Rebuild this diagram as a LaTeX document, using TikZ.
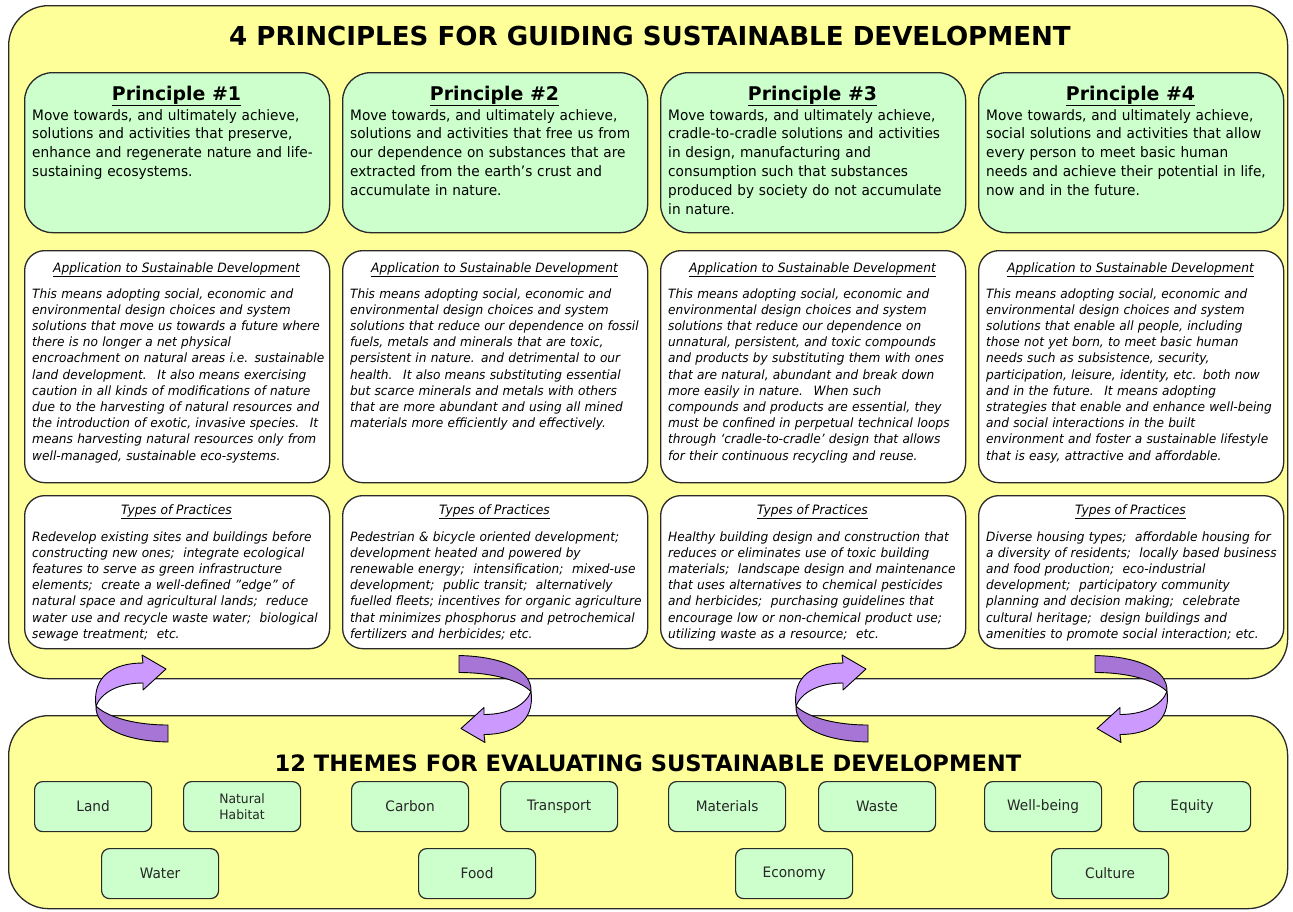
\documentclass[tikz,border=0pt]{standalone}
\usepackage{fontspec}
\setmainfont{DejaVu Sans}[FakeStretch=0.95]
\newfontfamily\widefont{DejaVu Sans}[FakeStretch=1.0]
\definecolor{ylw}{HTML}{FFFF99}
\definecolor{grn}{HTML}{CCFFCC}
\definecolor{plight}{HTML}{CC99FF}
\definecolor{pdark}{HTML}{A675D6}
\definecolor{edgec}{HTML}{2A2A2A}
\newcommand{\swirlshape}{%
  \filldraw[fill=pdark, draw=black, line width=0.9pt, line join=round]
    (168,742) .. controls (125,741) and (95,728) .. (96,706)
    .. controls (106,716) and (132,725) .. (168,725) -- cycle;
  \filldraw[fill=plight, draw=black, line width=0.9pt, line join=round]
    (96,706) .. controls (92,675) and (115,663) .. (143,663) -- (142,655) -- (166,669)
    -- (143,690) -- (143,683) .. controls (118,683) and (101,693) .. (96,706) -- cycle;
}
\tikzset{
  bigbox/.style={draw=edgec, fill=ylw, line width=1.3pt, rounded corners=40pt, anchor=north west, inner sep=0pt, minimum width=1279pt},
  princbox/.style={draw=edgec, fill=grn, line width=1.3pt, rounded corners=28pt, anchor=north west, inner sep=0pt, minimum width=305pt, minimum height=160pt},
  appbox/.style={draw=edgec, fill=white, line width=1.3pt, rounded corners=20pt, anchor=north west, inner sep=0pt, minimum width=305pt, minimum height=232pt},
  typebox/.style={draw=edgec, fill=white, line width=1.3pt, rounded corners=20pt, anchor=north west, inner sep=0pt, minimum width=305pt, minimum height=153pt},
  theme/.style={draw=edgec, fill=grn, line width=1.2pt, rounded corners=8pt, minimum width=117pt, minimum height=50pt, anchor=north west, inner sep=0pt, font=\fontsize{14.4}{16}\selectfont, text=black!85},
  bigtitle/.style={anchor=base, inner sep=0pt, font=\widefont\bfseries\fontsize{26.1}{28}\selectfont},
  phead/.style={anchor=base, inner sep=0pt, font=\widefont\bfseries\fontsize{18.9}{20}\selectfont},
  pbody/.style={anchor=base west, inner sep=0pt, text width=340pt, align=left, font=\fontsize{14.4}{18.8}\selectfont},
  ihead/.style={anchor=base, inner sep=0pt, font=\itshape\fontsize{12.9}{15}\selectfont},
  ibody/.style={anchor=base west, inner sep=0pt, text width=340pt, align=left, font=\itshape\fontsize{12.8}{16.2}\selectfont},
}
\begin{document}
\begin{tikzpicture}[x=1pt,y=-1pt]
\useasboundingbox (0,0) rectangle (1293,911);
\fill[white] (0,0) rectangle (1293,911);
% big boxes
\node[bigbox, minimum height=673pt] (top) at (8,5) {};
\node[bigbox, minimum height=193pt] (bottom) at (8,715) {};
\node[bigtitle] (t1) at (650,45) {4 PRINCIPLES FOR GUIDING SUSTAINABLE DEVELOPMENT};
\node[bigtitle, font=\widefont\bfseries\fontsize{22.6}{26}\selectfont] (t2) at (648,771) {12 THEMES FOR EVALUATING SUSTAINABLE DEVELOPMENT};
% column boxes
\foreach \c/\i in {24/1,342/2,660/3,978/4}{
  \node[princbox] (p\i) at (\c,72) {};
  \node[appbox] (a\i) at (\c,250) {};
  \node[typebox] (ty\i) at (\c,495) {};
  \node[phead] (ph\i) at (\c+152.5,100) {\underline{Principle \#\i}};
  \node[ihead] (ah\i) at (\c+152.5,272) {\underline{Application to Sustainable Development}};
  \node[ihead] (th\i) at (\c+152.5,514) {\underline{Types of Practices}};
}
% principle texts
\node[pbody] (pb1) at (32,120) {Move towards, and ultimately achieve,\\solutions and activities that preserve,\\enhance and regenerate nature and life-\\sustaining ecosystems.};
\node[pbody] (pb2) at (350,120) {Move towards, and ultimately achieve,\\solutions and activities that free us from\\our dependence on substances that are\\extracted from the earth's crust and\\accumulate in nature.};
\node[pbody] (pb3) at (668,120) {Move towards, and ultimately achieve,\\cradle-to-cradle solutions and activities\\in design, manufacturing and\\consumption such that substances\\produced by society do not accumulate\\in nature.};
\node[pbody] (pb4) at (986,120) {Move towards, and ultimately achieve,\\social solutions and activities that allow\\every person to meet basic human\\needs and achieve their potential in life,\\now and in the future.};
% application texts
\node[ibody] (ab1) at (32,298) {This means adopting social, economic and\\environmental design choices and system\\solutions that move us towards a future where\\there is no longer a net physical\\encroachment on natural areas i.e. sustainable\\land development.~ It also means exercising\\caution in all kinds of modifications of nature\\due to the harvesting of natural resources and\\the introduction of exotic, invasive species.~ It\\means harvesting natural resources only from\\well-managed, sustainable eco-systems.};
\node[ibody] (ab2) at (350,298) {This means adopting social, economic and\\environmental design choices and system\\solutions that reduce our dependence on fossil\\fuels, metals and minerals that are toxic,\\persistent in nature. and detrimental to our\\health.~ It also means substituting essential\\but scarce minerals and metals with others\\that are more abundant and using all mined\\materials more efficiently and effectively.};
\node[ibody] (ab3) at (668,298) {This means adopting social, economic and\\environmental design choices and system\\solutions that reduce our dependence on\\unnatural, persistent, and toxic compounds\\and products by substituting them with ones\\that are natural, abundant and break down\\more easily in nature.~ When such\\compounds and products are essential, they\\must be confined in perpetual technical loops\\through ‘cradle-to-cradle’ design that allows\\for their continuous recycling and reuse.};
\node[ibody] (ab4) at (986,298) {This means adopting social, economic and\\environmental design choices and system\\solutions that enable all people, including\\those not yet born, to meet basic human\\needs such as subsistence, security,\\participation, leisure, identity, etc. both now\\and in the future.~ It means adopting\\strategies that enable and enhance well-being\\and social interactions in the built\\environment and foster a sustainable lifestyle\\that is easy, attractive and affordable.};
% types texts
\node[ibody] (tb1) at (32,541) {Redevelop existing sites and buildings before\\constructing new ones;~ integrate ecological\\features to serve as green infrastructure\\elements;~ create a well-defined "edge" of\\natural space and agricultural lands;~ reduce\\water use and recycle waste water;~ biological\\sewage treatment;~ etc.};
\node[ibody] (tb2) at (350,541) {Pedestrian \& bicycle oriented development;\\development heated and powered by\\renewable energy;~ intensification;~ mixed-use\\development;~ public transit;~ alternatively\\fuelled fleets; incentives for organic agriculture\\that minimizes phosphorus and petrochemical\\fertilizers and herbicides; etc.};
\node[ibody] (tb3) at (668,541) {Healthy building design and construction that\\reduces or eliminates use of toxic building\\materials;~ landscape design and maintenance\\that uses alternatives to chemical pesticides\\and herbicides;~ purchasing guidelines that\\encourage low or non-chemical product use;\\utilizing waste as a resource;~ etc.};
\node[ibody] (tb4) at (986,541) {Diverse housing types;~ affordable housing for\\a diversity of residents;~ locally based business\\and food production;~ eco-industrial\\development;~ participatory community\\planning and decision making;~ celebrate\\cultural heritage;~ design buildings and\\amenities to promote social interaction; etc.};
% arrows
\begin{scope}\swirlshape\end{scope}
\begin{scope}[shift={(700,0)}]\swirlshape\end{scope}
\begin{scope}[shift={(627,1397.5)}, rotate=180]\swirlshape\end{scope}
\begin{scope}[shift={(1263,1397.5)}, rotate=180]\swirlshape\end{scope}
% themes
\node[theme] (land) at (34,781) {Land};
\node[theme, align=center, font=\fontsize{13}{15.5}\selectfont] (habitat) at (183,781) {Natural\\Habitat};
\node[theme] (carbon) at (351,781) {Carbon};
\node[theme] (transport) at (500,781) {Transport};
\node[theme] (materials) at (668,781) {Materials};
\node[theme] (waste) at (818,781) {Waste};
\node[theme] (wellbeing) at (984,781) {Well-being};
\node[theme] (equity) at (1133,781) {Equity};
\node[theme] (water) at (101,848) {Water};
\node[theme] (food) at (418,848) {Food};
\node[theme] (economy) at (735,848) {Economy};
\node[theme] (culture) at (1051,848) {Culture};
\end{tikzpicture}
\end{document}
